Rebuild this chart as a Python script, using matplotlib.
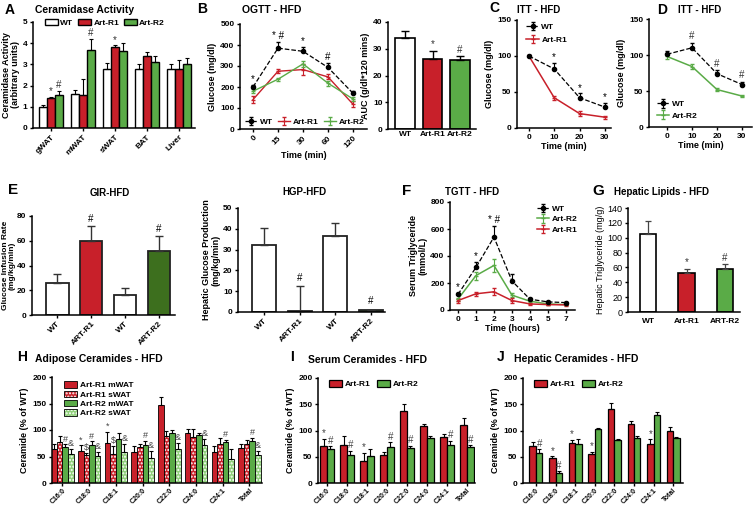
import matplotlib
matplotlib.use('Agg')
import matplotlib.pyplot as plt
import numpy as np
from matplotlib.patches import Patch

plt.rcParams['font.family'] = ['Liberation Sans', 'DejaVu Sans']
plt.rcParams['font.weight'] = 'bold'
plt.rcParams['axes.labelweight'] = 'bold'
plt.rcParams['axes.linewidth'] = 1.1
plt.rcParams['xtick.major.width'] = 1.0
plt.rcParams['ytick.major.width'] = 1.0
plt.rcParams['xtick.major.size'] = 2.5
plt.rcParams['ytick.major.size'] = 2.5
plt.rcParams['xtick.labelsize'] = 6
plt.rcParams['ytick.labelsize'] = 6
plt.rcParams['axes.labelsize'] = 6.5
plt.rcParams['hatch.linewidth'] = 1.0

RED = '#c8202a'
GREEN = '#5aab47'
DKGREEN = '#3d6f1e'
LTGREEN = '#8fcf7a'

# ---------------- Data ----------------
# A: Ceramidase activity
tissues = ['gWAT', 'mWAT', 'sWAT', 'BAT', 'Liver']
cer_wt = [1.0, 1.6, 2.8, 2.8, 2.77]
cer_wt_err = [0.08, 0.2, 0.25, 0.2, 0.25]
cer_r1 = [1.43, 1.57, 3.83, 3.4, 2.78]
cer_r1_err = [0.05, 0.75, 0.07, 0.2, 0.43]
cer_r2 = [1.58, 3.7, 3.65, 3.1, 3.02]
cer_r2_err = [0.18, 0.5, 0.35, 0.3, 0.27]
cer_marks = [(0, 1, '*'), (0, 2, '#'), (1, 2, '#'), (2, 1, '*')]

# B: OGTT
ogtt_time = ['0', '15', '30', '60', '120']
ogtt_wt = [200, 385, 370, 293, 170]
ogtt_wt_err = [10, 30, 20, 20, 12]
ogtt_r1 = [140, 275, 283, 248, 118]
ogtt_r1_err = [15, 10, 25, 12, 15]
ogtt_r2 = [180, 237, 310, 218, 143]
ogtt_r2_err = [10, 8, 15, 12, 10]
ogtt_marks = ['*', '* #', '*', '#', '']

auc_groups = ['WT', 'Art-R1', 'Art-R2']
auc_vals = [34, 26.3, 25.8]
auc_err = [2.5, 3.0, 1.5]
auc_marks = ['', '*', '#']

# C: ITT R1
itt_time = [0, 10, 20, 30]
ittc_wt = [100, 82, 42, 29]
ittc_wt_err = [2, 8, 6, 6]
ittc_r1 = [100, 42, 20, 15]
ittc_r1_err = [1, 3, 3, 2]
ittc_marks = ['', '*', '*', '*']

# D: ITT R2
ittd_wt = [101, 110, 74, 59]
ittd_wt_err = [4, 7, 5, 4]
ittd_r2 = [98, 84, 52, 43]
ittd_r2_err = [3, 3, 2, 2]
ittd_marks = ['', '#', '#', '#']

# E: GIR and HGP
clamp_groups = ['WT', 'ART-R1', 'WT', 'ART-R2']
gir_vals = [26, 60, 16, 51.5]
gir_err = [7, 12, 6, 12.5]
gir_marks = ['', '#', '', '#']
hgp_vals = [32, 0.5, 36.5, 1.2]
hgp_err = [8.5, 12, 6.5, 0]
hgp_marks = ['', '#', '', '#']

# F: TGTT
tg_time = ['0', '1', '2', '3', '4', '5', '7']
tg_wt = [115, 315, 540, 215, 80, 60, 55]
tg_wt_err = [10, 40, 80, 55, 10, 6, 6]
tg_r2 = [80, 255, 330, 110, 65, 45, 40]
tg_r2_err = [10, 30, 50, 15, 8, 5, 5]
tg_r1 = [70, 120, 135, 70, 45, 40, 38]
tg_r1_err = [15, 15, 25, 20, 8, 5, 5]
tg_marks = ['*', '*', '* #', '', '', '', '']

# G: Hepatic lipids
liv_groups = ['WT', 'Art-R1', 'ART-R2']
liv_vals = [105, 52, 58.5]
liv_err = [17, 6, 6]
liv_marks = ['', '*', '#']

# H-J: Ceramide species
species = ['C16:0', 'C18:0', 'C18:1', 'C20:0', 'C22:0', 'C24:0', 'C24:1', 'Total']
adi_r1_m = [64, 60, 75, 58, 147, 94, 58, 66]
adi_r1_m_err = [10, 12, 22, 12, 15, 8, 12, 8]
adi_r1_s = [78, 52, 55, 68, 88, 87, 73, 73]
adi_r1_s_err = [10, 5, 15, 5, 10, 15, 12, 8]
adi_r2_m = [68, 71, 83, 72, 95, 90, 77, 80]
adi_r2_m_err = [5, 8, 12, 8, 5, 5, 5, 5]
adi_r2_s = [55, 51, 59, 47, 64, 71, 46, 53]
adi_r2_s_err = [10, 8, 15, 14, 12, 12, 18, 8]
adi_marks = [(0, 2, '#'), (0, 3, '&'), (1, 0, '*'), (1, 1, '$'), (1, 2, '#'), (1, 3, '&'),
             (2, 0, '*'), (2, 1, '$'), (2, 3, '&'), (3, 2, '#'), (3, 3, '&'), (4, 3, '&'),
             (5, 3, '&'), (6, 2, '#'), (7, 2, '#'), (7, 3, '&')]

ser_r1 = [71, 73, 41, 53, 137, 108, 88, 111]
ser_r1_err = [13, 17, 17, 6, 13, 5, 6, 13]
ser_r2 = [65, 53, 51, 69, 67, 86, 73, 69]
ser_r2_err = [5, 8, 14, 9, 4, 4, 7, 3]
ser_marks = [(0, 0, '*'), (0, 1, '#'), (1, 1, '#'), (2, 0, '*'), (3, 1, '#'), (4, 1, '#'),
             (6, 1, '#'), (7, 1, '#')]

hep_r1 = [71, 47, 76, 56, 141, 112, 74, 99]
hep_r1_err = [8, 4, 6, 4, 11, 7, 9, 8]
hep_r2 = [58, 19, 74, 102, 81, 86, 130, 85]
hep_r2_err = [6, 3, 10, 2, 3, 3, 6, 3]
hep_marks = [(0, 1, '#'), (1, 0, '*'), (1, 1, '#'), (2, 0, '*'), (3, 0, '*'), (6, 0, '*')]

# ---------------- Helpers ----------------
W, H = 756, 505
fig = plt.figure(figsize=(W / 100, H / 100), dpi=100)


def axpx(x0, x1, ytop, ybot):
    return fig.add_axes([x0 / W, 1 - ybot / H, (x1 - x0) / W, (ybot - ytop) / H])


def style(ax):
    for s in ['top', 'right']:
        ax.spines[s].set_visible(False)
    ax.tick_params(direction='out', pad=1.5)


def ftext(x, y, s, size=7, ha='left', **kw):
    fig.text(x / W, 1 - y / H, s, fontsize=size, ha=ha, va='center', fontweight='bold', **kw)


def hatch_white(bars):
    for p in bars:
        p._hatch_color = (1, 1, 1, 1)


def grouped(ax, series, errs, colors, width, lw=0.9, hatches=None, capsize=1.5):
    k = len(series)
    n = len(series[0])
    x = np.arange(n)
    out = []
    for i in range(k):
        pos = x + (i - (k - 1) / 2) * width
        h = hatches[i] if hatches else None
        b = ax.bar(pos, series[i], width, color=colors[i], edgecolor='black', linewidth=lw,
                   hatch=h, yerr=[np.zeros(n), errs[i]], capsize=capsize,
                   error_kw=dict(elinewidth=0.8, capthick=0.8, ecolor='black'), zorder=2)
        if h:
            hatch_white(b)
        out.append(pos)
    return out


def mark_grouped(ax, positions, series, errs, marks, off, size=7, color='black'):
    for g, s, sym in marks:
        ax.text(positions[s][g], series[s][g] + errs[s][g] + off, sym, ha='center',
                va='bottom', fontsize=size, fontweight='normal', color=color)


# ---------------- A ----------------
ax = axpx(33, 195, 22, 128)
style(ax)
pos = grouped(ax, [cer_wt, cer_r1, cer_r2], [cer_wt_err, cer_r1_err, cer_r2_err],
              ['white', RED, GREEN], 0.25, lw=1.0)
mark_grouped(ax, pos, [cer_wt, cer_r1, cer_r2], [cer_wt_err, cer_r1_err, cer_r2_err],
             cer_marks, 0.03, color='#333333')
ax.set_ylim(0, 5)
ax.set_yticks(range(6))
ax.set_xlim(-0.55, 4.5)
ax.set_xticks(range(len(tissues)))
ax.set_xticklabels(tissues, rotation=45, ha='right', rotation_mode='anchor')
ax.set_ylabel('Ceramidase Activity\n(arbitrary units)', labelpad=2, linespacing=1.0)
hA = [Patch(facecolor=c, edgecolor='black', linewidth=1.0) for c in ['white', RED, GREEN]]
ax.legend(hA, ['WT', 'Art-R1', 'Art-R2'], ncol=3, loc='upper left', bbox_to_anchor=(0.03, 1.1),
          frameon=False, fontsize=6, handlelength=1.5, handleheight=0.8, columnspacing=0.6,
          handletextpad=0.3)
ftext(5, 10, 'A', size=10)
ftext(35, 10, 'Ceramidase Activity', size=7.5)

# ---------------- B OGTT ----------------
ax = axpx(240, 367, 24, 129)
style(ax)
xb = np.arange(len(ogtt_time))
e_wt = ax.errorbar(xb, ogtt_wt, yerr=[np.zeros(5), ogtt_wt_err], color='black', ls='--', lw=0.9,
                   marker='o', ms=3, capsize=1.5, elinewidth=0.8, zorder=4)
e_r1 = ax.errorbar(xb, ogtt_r1, yerr=ogtt_r1_err, color=RED, lw=1.0, marker='_', ms=3,
                   capsize=1.5, elinewidth=0.8, zorder=3)
e_r2 = ax.errorbar(xb, ogtt_r2, yerr=ogtt_r2_err, color=GREEN, lw=1.0, marker='_', ms=3,
                   capsize=1.5, elinewidth=0.8, zorder=3)
for i, m in enumerate(ogtt_marks):
    if m:
        ax.text(xb[i], ogtt_wt[i] + ogtt_wt_err[i] + 5, m, ha='center', va='bottom', fontsize=7,
                fontweight='normal')
ax.set_ylim(0, 500)
ax.set_yticks(range(0, 501, 100))
ax.set_xlim(-0.52, 4.56)
ax.set_xticks(xb)
ax.set_xticklabels(ogtt_time, rotation=45, ha='right', rotation_mode='anchor')
ax.set_xlabel('Time (min)', labelpad=1)
ax.set_ylabel('Glucose (mg/dl)', labelpad=2)
ax.legend([e_wt, e_r1, e_r2], ['WT', 'Art-R1', 'Art-R2'], ncol=3, loc='lower left',
          bbox_to_anchor=(-0.02, -0.04), frameon=False, fontsize=6, handlelength=1.5,
          columnspacing=0.6, handletextpad=0.3)
ftext(197, 9, 'B', size=10)
ftext(242, 10, 'OGTT - HFD', size=7.5)

# AUC
ax = axpx(388, 476, 22, 129)
style(ax)
xa = np.arange(3)
ax.bar(xa, auc_vals, 0.7, color=['white', RED, GREEN], edgecolor='black', linewidth=1.2,
       yerr=[np.zeros(3), auc_err], capsize=3, error_kw=dict(elinewidth=1.0, capthick=1.0))
for i, m in enumerate(auc_marks):
    if m:
        ax.text(xa[i], auc_vals[i] + auc_err[i] + 0.5, m, ha='center', va='bottom', fontsize=7,
                fontweight='normal', color='#333333')
ax.set_ylim(0, 40)
ax.set_yticks(range(0, 41, 10))
ax.set_xlim(-0.62, 2.58)
ax.set_xticks(xa)
ax.set_xticklabels(auc_groups)
ax.tick_params(axis='x', length=0)
ax.set_ylabel('AUC (g/dl*120 mins)', labelpad=2)

# ---------------- C ITT R1 ----------------
ax = axpx(517, 611, 20, 128)
style(ax)
c_wt = ax.errorbar(itt_time, ittc_wt, yerr=[np.zeros(4), ittc_wt_err], color='black', ls='--',
                   lw=0.9, marker='o', ms=3, capsize=1.5, elinewidth=0.8, zorder=4)
c_r1 = ax.errorbar(itt_time, ittc_r1, yerr=ittc_r1_err, color=RED, lw=1.1, marker='_', ms=3,
                   capsize=1.5, elinewidth=0.8, zorder=3)
for i, m in enumerate(ittc_marks):
    if m:
        ax.text(itt_time[i], ittc_wt[i] + ittc_wt_err[i] + 1, m, ha='center', va='bottom',
                fontsize=7, fontweight='normal')
ax.set_ylim(0, 150)
ax.set_yticks([0, 50, 100, 150])
ax.set_xlim(-4.7, 32.4)
ax.set_xticks(itt_time)
ax.set_xlabel('Time (min)', labelpad=1)
ax.set_ylabel('Glucose (mg/dl)', labelpad=2)
ax.legend([c_wt, c_r1], ['WT', 'Art-R1'], loc='upper left', bbox_to_anchor=(0.02, 1.04),
          frameon=False, fontsize=6, handlelength=1.5, handletextpad=0.3, labelspacing=0.6)
ftext(489, 8, 'C', size=10)
ftext(517, 10, 'ITT - HFD', size=7)

# ---------------- D ITT R2 ----------------
ax = axpx(649, 752, 19, 127)
style(ax)
d_wt = ax.errorbar(itt_time, ittd_wt, yerr=[np.zeros(4), ittd_wt_err], color='black', ls='--',
                   lw=0.9, marker='o', ms=3, capsize=1.5, elinewidth=0.8, zorder=4)
d_r2 = ax.errorbar(itt_time, ittd_r2, yerr=ittd_r2_err, color=GREEN, lw=1.1, marker='_', ms=3,
                   capsize=1.5, elinewidth=0.8, zorder=3)
for i, m in enumerate(ittd_marks):
    if m:
        ax.text(itt_time[i], ittd_wt[i] + ittd_wt_err[i] + 2, m, ha='center', va='bottom',
                fontsize=7, fontweight='normal', color='#333333')
ax.set_ylim(0, 150)
ax.set_yticks([0, 50, 100, 150])
ax.set_xlim(-7.2, 34)
ax.set_xticks(itt_time)
ax.set_xlabel('Time (min)', labelpad=1)
ax.set_ylabel('Glucose (mg/dl)', labelpad=2)
ax.legend([d_wt, d_r2], ['WT', 'Art-R2'], loc='lower left', bbox_to_anchor=(0.0, 0.0),
          frameon=False, fontsize=6, handlelength=1.5, handletextpad=0.3, labelspacing=0.4)
ftext(657, 10, 'D', size=10)
ftext(678, 10, 'ITT - HFD', size=7)

# ---------------- E GIR ----------------
ax = axpx(32, 175, 216, 315)
style(ax)
xe = np.arange(4)
ax.bar(xe, gir_vals, 0.67, color=['white', RED, 'white', DKGREEN], edgecolor='#222222',
       linewidth=1.3, yerr=[np.zeros(4), gir_err], capsize=3,
       error_kw=dict(elinewidth=1.0, capthick=1.0, ecolor='#333333'))
for i, m in enumerate(gir_marks):
    if m:
        ax.text(xe[i], gir_vals[i] + gir_err[i] + 1.5, m, ha='center', va='bottom', fontsize=7,
                fontweight='normal')
ax.set_ylim(0, 80)
ax.set_yticks(range(0, 81, 20))
ax.set_xlim(-0.74, 3.47)
ax.set_xticks(xe)
ax.set_xticklabels(clamp_groups, rotation=45, ha='right', rotation_mode='anchor')
ax.set_ylabel('Glucose Infusion Rate\n(mg/kg/min)', labelpad=1, linespacing=0.95, fontsize=6)
ftext(8, 190, 'E', size=11)
ftext(110, 193, 'GIR-HFD', size=7, ha='center')

# HGP
ax = axpx(238, 385, 208, 312)
style(ax)
ax.bar(xe, hgp_vals, 0.67, color=['white', RED, 'white', DKGREEN], edgecolor='#222222',
       linewidth=1.3, yerr=[np.zeros(4), hgp_err], capsize=3,
       error_kw=dict(elinewidth=1.0, capthick=1.0, ecolor='#333333'))
for i, m in enumerate(hgp_marks):
    if m:
        ax.text(xe[i], hgp_vals[i] + hgp_err[i] + 1.5, m, ha='center', va='bottom', fontsize=7,
                fontweight='normal')
ax.set_ylim(0, 50)
ax.set_yticks(range(0, 51, 10))
ax.set_xlim(-0.73, 3.4)
ax.set_xticks(xe)
ax.set_xticklabels(clamp_groups, rotation=45, ha='right', rotation_mode='anchor')
ax.set_ylabel('Hepatic Glucose Production\n(mg/kg/min)', labelpad=2, linespacing=1.0)
ftext(304, 192, 'HGP-HFD', size=7, ha='center')

# ---------------- F TGTT ----------------
ax = axpx(450, 575, 202, 310)
style(ax)
xf = np.arange(len(tg_time))
f_wt = ax.errorbar(xf, tg_wt, yerr=[np.zeros(7), tg_wt_err], color='black', ls='--', lw=0.9,
                   marker='o', ms=3, capsize=1.5, elinewidth=0.8, zorder=4)
f_r2 = ax.errorbar(xf, tg_r2, yerr=tg_r2_err, color=GREEN, lw=1.1, marker='_', ms=3,
                   capsize=1.5, elinewidth=0.8, zorder=3)
f_r1 = ax.errorbar(xf, tg_r1, yerr=tg_r1_err, color=RED, lw=1.1, marker='_', ms=3,
                   capsize=1.5, elinewidth=0.8, zorder=3)
for i, m in enumerate(tg_marks):
    if m:
        ax.text(xf[i], tg_wt[i] + tg_wt_err[i] + 10, m, ha='center', va='bottom', fontsize=7,
                fontweight='normal')
ax.set_ylim(0, 800)
ax.set_yticks(range(0, 801, 200))
ax.set_xlim(-0.44, 6.5)
ax.set_xticks(xf)
ax.set_xticklabels(tg_time)
ax.set_xlabel('Time (hours)', labelpad=1)
ax.set_ylabel('Serum Triglyceride\n(mmol/L)', labelpad=2, linespacing=1.0)
ax.legend([f_wt, f_r2, f_r1], ['WT', 'Art-R2', 'Art-R1'], loc='upper right',
          bbox_to_anchor=(1.08, 1.04), frameon=False, fontsize=6, handlelength=1.5,
          handletextpad=0.3, labelspacing=0.3)
ftext(402, 191, 'F', size=11)
ftext(472, 192, 'TGTT - HFD', size=7, ha='center')

# ---------------- G Hepatic lipids ----------------
ax = axpx(628, 740, 208, 312)
style(ax)
xg = np.arange(3)
ax.bar(xg, liv_vals, 0.42, color=['white', RED, GREEN], edgecolor='black', linewidth=1.2,
       yerr=[np.zeros(3), liv_err], capsize=2.5,
       error_kw=dict(elinewidth=0.9, capthick=0.9, ecolor='#444444'))
for i, m in enumerate(liv_marks):
    if m:
        ax.text(xg[i], liv_vals[i] + liv_err[i] + 2, m, ha='center', va='bottom', fontsize=7,
                fontweight='normal', color='#333333')
ax.set_ylim(0, 140)
ax.set_yticks(range(0, 141, 20))
for t in ax.get_yticklabels():
    t.set_fontweight('normal')
    t.set_fontsize(6.5)
ax.set_xlim(-0.52, 2.39)
ax.set_xticks(xg)
ax.set_xticklabels(liv_groups)
ax.tick_params(axis='x', length=0, pad=4)
ax.set_ylabel('Hepatic Triglyceride (mg/g)', labelpad=2, fontweight='normal')
ftext(592, 191, 'G', size=11)
ftext(662, 192, 'Hepatic Lipids - HFD', size=7, ha='center')

# ---------------- H Adipose ceramides ----------------
ax = axpx(52, 262, 377, 483)
style(ax)
adi_series = [adi_r1_m, adi_r1_s, adi_r2_m, adi_r2_s]
adi_errs = [adi_r1_m_err, adi_r1_s_err, adi_r2_m_err, adi_r2_s_err]
adi_cols = [RED, RED, GREEN, LTGREEN]
adi_hatch = [None, '.....', None, '.....']
pos = grouped(ax, adi_series, adi_errs, adi_cols, 0.21, lw=0.6, hatches=adi_hatch, capsize=1.2)
mark_grouped(ax, pos, adi_series, adi_errs, adi_marks, 1, size=6.5, color='#444444')
ax.set_ylim(0, 200)
ax.set_yticks([0, 50, 100, 150, 200])
ax.set_xlim(-0.39, 7.47)
ax.set_xticks(range(8))
ax.set_xticklabels(species, rotation=45, ha='right', rotation_mode='anchor', fontsize=5)
ax.tick_params(axis='x', pad=1, length=2)
ax.set_ylabel('Ceramide (% of WT)', labelpad=2)
hH = []
for c, h in zip(adi_cols, adi_hatch):
    p = Patch(facecolor=c, edgecolor='black', linewidth=0.6, hatch=h)
    if h:
        p._hatch_color = (1, 1, 1, 1)
    hH.append(p)
ax.legend(hH, ['Art-R1 mWAT', 'Art-R1 sWAT', 'Art-R2 mWAT', 'Art-R2 sWAT'], loc='upper left',
          bbox_to_anchor=(0.02, 1.03), frameon=False, fontsize=6, handlelength=1.6,
          handleheight=0.8, handletextpad=0.3, labelspacing=0.15)
ftext(17, 357, 'H', size=10)
ftext(35, 359, 'Adipose Ceramides - HFD', size=7.5)

# ---------------- I Serum ceramides ----------------
ax = axpx(318, 475, 378, 483)
style(ax)
pos = grouped(ax, [ser_r1, ser_r2], [ser_r1_err, ser_r2_err], [RED, GREEN], 0.33, lw=0.9,
              capsize=1.5)
mark_grouped(ax, pos, [ser_r1, ser_r2], [ser_r1_err, ser_r2_err], ser_marks, 1, size=7,
             color='#444444')
ax.set_ylim(0, 200)
ax.set_yticks([0, 50, 100, 150, 200])
ax.set_xlim(-0.45, 7.4)
ax.set_xticks(range(8))
ax.set_xticklabels(species, rotation=45, ha='right', rotation_mode='anchor', fontsize=5)
ax.tick_params(axis='x', pad=1, length=2)
ax.set_ylabel('Ceramide (% of WT)', labelpad=2)
hI = [Patch(facecolor=c, edgecolor='black', linewidth=0.9) for c in [RED, GREEN]]
ax.legend(hI, ['Art-R1', 'Art-R2'], ncol=2, loc='upper left', bbox_to_anchor=(0.02, 1.05),
          frameon=False, fontsize=6, handlelength=1.6, handleheight=0.8, handletextpad=0.3,
          columnspacing=0.8)
ftext(290, 357, 'I', size=10)
ftext(368, 360, 'Serum Ceramides - HFD', size=7.5, ha='center')

# ---------------- J Hepatic ceramides ----------------
ax = axpx(523, 683, 378, 483)
style(ax)
pos = grouped(ax, [hep_r1, hep_r2], [hep_r1_err, hep_r2_err], [RED, GREEN], 0.33, lw=0.9,
              capsize=1.5)
mark_grouped(ax, pos, [hep_r1, hep_r2], [hep_r1_err, hep_r2_err], hep_marks, 1, size=7,
             color='#444444')
ax.set_ylim(0, 200)
ax.set_yticks([0, 50, 100, 150, 200])
ax.set_xlim(-0.66, 7.5)
ax.set_xticks(range(8))
ax.set_xticklabels(species, rotation=45, ha='right', rotation_mode='anchor', fontsize=5)
ax.tick_params(axis='x', pad=1, length=2)
ax.set_ylabel('Ceramide (% of WT)', labelpad=2)
ax.legend(hI, ['Art-R1', 'Art-R2'], ncol=2, loc='upper left', bbox_to_anchor=(0.02, 1.05),
          frameon=False, fontsize=6, handlelength=1.6, handleheight=0.8, handletextpad=0.3,
          columnspacing=0.8)
ftext(497, 357, 'J', size=10)
ftext(576, 359, 'Hepatic Ceramides - HFD', size=7.5, ha='center')

fig.savefig('out.png', dpi=100)
